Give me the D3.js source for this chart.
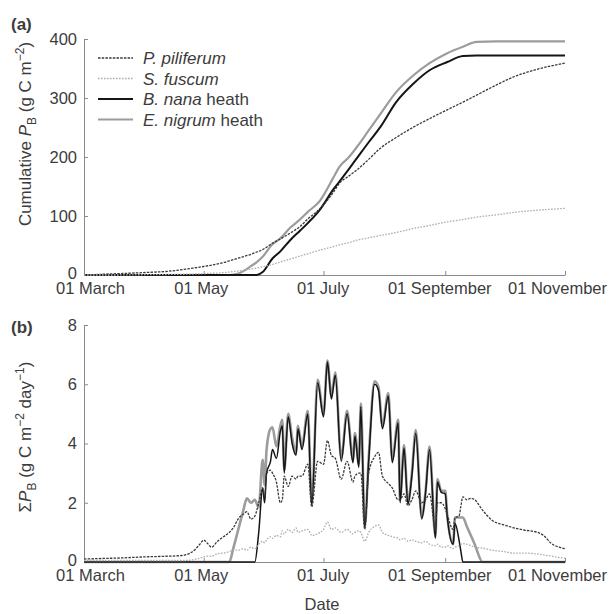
<!DOCTYPE html>
<html lang="en">
<head>
<meta charset="UTF-8">
<title>Cumulative and daily P_B</title>
<style>
  body { margin: 0; background: #fff; font-family: "Liberation Sans", Arial, sans-serif; }
  svg text { fill: #3c3c3c; font-size: 16.5px; }
  .axis path, .axis line { stroke: #8a8a8a; }
</style>
</head>
<body>
<svg id="chart" width="611" height="614"></svg>
<script src="https://d3js.org/d3.v7.min.js"></script>
<script>
// x positions are days since 01 March
const tickDays = [0, 61, 122, 184, 245];
const tickLabels = ['01 March', '01 May', '01 July', '01 September', '01 November'];
const tickShift = [6, -3, -1, -6, -8];
const yTicksA = [0, 100, 200, 300, 400];
const yTicksB = [0, 2, 4, 6, 8];

// (a) cumulative P_B, g C m-2
const daysA = [0, 15, 30, 45, 54, 62, 71, 74, 79, 85, 88, 91, 96, 100, 105, 110, 114, 120, 127, 130,
  135, 139, 145, 151, 159, 168, 176, 185, 193, 200, 210, 219, 228, 236, 245];
const cumPiliferum = [0, 2, 4, 7, 11, 15, 21, 24, 29, 35, 39, 43, 54, 61, 71, 82, 95, 112, 140, 155,
  168, 178, 196, 215, 233, 251, 265, 280, 293, 305, 322, 336, 346, 353, 359];
const cumFuscum = [0, 0, 0.5, 1, 1.5, 2.5, 4, 5, 7, 10, 12, 14, 18, 22, 27, 32, 36, 42, 48, 51,
  55, 59, 63, 67, 72, 79, 84, 90, 94, 98, 102, 106, 109, 111, 113];
const cumNana = [0, 0, 0, 0, 0, 0, 0, 0, 0, 0, 0, 5, 28, 40, 59, 75, 88, 110, 145, 158,
  180, 198, 225, 251, 293, 325, 347, 361, 371, 372, 372, 372, 372, 372, 372];
const cumNigrum = [0, 0, 0, 0, 0, 0, 0, 0, 3, 15, 22, 31, 52, 62, 80, 94, 107, 125, 165, 183,
  200, 217, 245, 273, 310, 339, 359, 376, 387, 395, 396, 396, 396, 396, 396];

// (b) daily sum of P_B, g C m-2 day-1
const daysB = [0, 10, 20, 30, 40, 50,
  54, 57, 59, 61, 63, 65, 68, 71, 74, 76,
  79, 81, 83, 85, 87, 89, 91, 92, 93, 95,
  96, 98, 100, 101, 102, 104, 106, 108, 109, 111,
  114, 116, 119, 122, 124, 126, 128, 131, 134, 137,
  138, 140, 141, 143, 145, 148, 150, 152, 155, 157,
  160, 161, 163, 165, 167, 169, 172, 174, 176, 179,
  180, 182, 184, 185, 188, 189, 191, 192, 193, 195,
  197, 199, 203, 208, 214, 219, 224, 231, 234, 238,
  242, 245];
const dayPiliferum = [0.10, 0.12, 0.14, 0.17, 0.19, 0.22,
  0.30, 0.45, 0.60, 0.74, 0.62, 0.50, 0.70, 0.85, 1.00, 1.15,
  1.50, 1.60, 1.70, 1.45, 1.55, 2.00, 2.50, 2.20, 3.00, 3.10,
  3.00, 2.70, 2.00, 2.10, 2.90, 2.55, 2.90, 2.80, 2.90, 2.90,
  3.30, 1.86, 3.40, 3.30, 4.10, 3.60, 3.50, 2.80, 3.40, 2.70,
  2.90, 3.00, 3.00, 1.10, 3.00, 3.55, 3.70, 2.90, 2.65, 2.50,
  2.10, 2.10, 2.30, 1.90, 2.10, 2.40, 2.00, 2.10, 2.30, 1.10,
  2.00, 2.00, 1.80, 1.60, 1.10, 1.50, 1.55, 1.90, 2.20, 2.10,
  2.15, 2.10, 1.75, 1.40, 1.25, 1.15, 1.08, 1.00, 0.90, 0.63,
  0.50, 0.45];
const dayFuscum = [0.05, 0.05, 0.05, 0.05, 0.05, 0.05,
  0.06, 0.10, 0.13, 0.17, 0.20, 0.20, 0.28, 0.30, 0.35, 0.40,
  0.40, 0.45, 0.40, 0.50, 0.45, 0.60, 0.70, 0.65, 0.75, 0.85,
  0.80, 0.90, 0.85, 1.05, 0.95, 1.10, 1.00, 1.15, 1.00, 1.05,
  1.10, 0.90, 0.95, 1.10, 1.35, 1.10, 1.15, 1.00, 1.10, 0.95,
  1.00, 1.05, 1.00, 0.70, 1.00, 1.20, 1.25, 1.00, 0.90, 0.85,
  0.80, 0.75, 0.80, 0.70, 0.75, 0.70, 0.65, 0.70, 0.60, 0.55,
  0.60, 0.50, 0.50, 0.55, 0.45, 0.50, 0.55, 0.60, 0.62, 0.60,
  0.55, 0.50, 0.47, 0.40, 0.35, 0.30, 0.30, 0.27, 0.24, 0.20,
  0.15, 0.13];
const dayNana = [0, 0, 0, 0, 0, 0,
  0, 0, 0, 0, 0, 0, 0, 0, 0, 0,
  0, 0, 0, 0, 0, 1.00, 2.50, 2.00, 3.00, 3.40,
  3.80, 3.50, 4.40, 4.60, 3.00, 4.90, 4.00, 3.60, 4.50, 3.80,
  5.00, 1.90, 6.05, 4.90, 6.75, 5.50, 6.30, 3.40, 5.00, 3.35,
  4.25, 3.20, 5.25, 1.15, 3.40, 6.00, 5.80, 4.50, 5.60, 3.35,
  4.70, 2.00, 3.85, 1.95, 2.90, 4.35, 1.45, 2.35, 3.80, 0.80,
  2.70, 2.35, 2.30, 1.55, 0.60, 1.30, 0.75, 0.35, 0, 0,
  0, 0, 0, 0, 0, 0, 0, 0, 0, 0,
  0, 0];
const dayNigrum = [0, 0, 0, 0, 0, 0,
  0, 0, 0, 0, 0, 0, 0, 0, 0, 0.45,
  1.20, 1.70, 2.15, 2.00, 2.10, 1.85, 3.45, 2.60, 3.80, 4.50,
  4.55, 3.90, 4.60, 4.80, 3.10, 5.00, 4.20, 3.70, 4.60, 3.90,
  5.10, 2.00, 6.15, 5.00, 6.80, 5.60, 6.40, 3.50, 5.10, 3.45,
  4.35, 3.30, 5.35, 1.20, 3.50, 6.10, 5.90, 4.60, 5.70, 3.45,
  4.80, 2.10, 3.95, 2.00, 3.00, 4.45, 1.50, 2.40, 3.90, 0.85,
  2.80, 2.40, 2.40, 1.60, 0.60, 1.50, 1.50, 1.50, 1.50, 1.20,
  0.90, 0.60, 0, 0, 0, 0, 0, 0, 0, 0,
  0, 0];

const species = [
  { name: 'P. piliferum', rest: '', color: '#3a3a3a', width: 1.3, dash: '2.5,1.2', cum: cumPiliferum, day: dayPiliferum },
  { name: 'S. fuscum', rest: '', color: '#adadad', width: 1.3, dash: '1.6,1.4', cum: cumFuscum, day: dayFuscum },
  { name: 'B. nana', rest: ' heath', color: '#151515', width: 2, dash: null, cum: cumNana, day: dayNana },
  { name: 'E. nigrum', rest: ' heath', color: '#9c9c9c', width: 2.2, dash: null, cum: cumNigrum, day: dayNigrum }
];
// drawing order: gray heath under black heath
const drawOrder = [3, 2, 0, 1];

const start = new Date(2007, 2, 1);
const toDate = d => d3.timeDay.offset(start, d);

const svg = d3.select('#chart');
const x = d3.scaleTime().domain([toDate(0), toDate(245)]).range([84, 565]);

const panels = [
  { top: 39, bottom: 275, max: 400, ticks: yTicksA, days: daysA, key: 'cum', tag: '(a)', tagY: 30 },
  { top: 325, bottom: 562, max: 8, ticks: yTicksB, days: daysB, key: 'day', tag: '(b)', tagY: 333 }
];

panels.forEach(p => {
  const y = d3.scaleLinear().domain([0, p.max]).range([p.bottom, p.top]);

  svg.append('g')
    .attr('class', 'axis')
    .attr('transform', 'translate(84,0)')
    .call(d3.axisLeft(y).tickValues(p.ticks).tickSizeInner(-4).tickSizeOuter(0).tickPadding(7))
    .call(g => g.selectAll('text').style('font-size', '16.5px').attr('fill', '#3c3c3c')
      .attr('dy', d => d === 0 ? '0.2em' : '0.32em'));

  svg.append('g')
    .attr('class', 'axis')
    .attr('transform', `translate(0,${p.bottom})`)
    .call(d3.axisBottom(x).tickValues(tickDays.map(toDate)).tickSizeInner(-4).tickSizeOuter(0).tickPadding(7)
      .tickFormat((d, i) => tickLabels[i]))
    .call(g => g.selectAll('text')
      .style('font-size', '16.5px')
      .attr('fill', '#3c3c3c')
      .attr('dx', (d, i) => tickShift[i]));

  const line = d3.line()
    .x((d, i) => x(toDate(p.days[i])))
    .y(d => y(d))
    .curve(d3.curveMonotoneX);

  drawOrder.forEach(k => {
    const s = species[k];
    svg.append('path')
      .datum(s[p.key])
      .attr('d', line)
      .attr('fill', 'none')
      .attr('stroke', s.color)
      .attr('stroke-width', p.key === 'day' && k === 2 ? 1.5 : (p.key === 'day' && k === 3 ? 2.6 : s.width))
      .attr('stroke-dasharray', s.dash)
      .attr('stroke-linejoin', 'round');
  });

  svg.append('text')
    .attr('x', 11)
    .attr('y', p.tagY)
    .attr('font-weight', 'bold')
    .attr('fill', '#111')
    .style('font-size', '17px')
    .text(p.tag);
});

// rich text helper for sub/superscripts
function richText(sel, parts) {
  parts.forEach(pt => {
    const t = sel.append('tspan').text(pt.t);
    if (pt.i) t.attr('font-style', 'italic');
    if (pt.sub) t.attr('dy', 5).style('font-size', '12px');
    if (pt.sup) t.attr('dy', -7).style('font-size', '12px');
    if (pt.back) t.attr('dy', pt.back);
  });
}

const labA = svg.append('text')
  .attr('transform', 'translate(31,134) rotate(-90)')
  .attr('text-anchor', 'middle')
  .style('font-size', '17px');
richText(labA, [
  { t: 'Cumulative ' }, { t: 'P', i: true }, { t: 'B', sub: true },
  { t: ' (g C m', back: -5 }, { t: '\u22122', sup: true }, { t: ')', back: 7 }
]);

const labB = svg.append('text')
  .attr('transform', 'translate(31,437) rotate(-90)')
  .attr('text-anchor', 'middle')
  .style('font-size', '17px');
richText(labB, [
  { t: '\u03A3' }, { t: 'P', i: true }, { t: 'B', sub: true },
  { t: ' (g C m', back: -5 }, { t: '\u22122', sup: true }, { t: ' day', back: 7 },
  { t: '\u22121', sup: true }, { t: ')', back: 7 }
]);

svg.append('text')
  .attr('x', 322)
  .attr('y', 610)
  .attr('text-anchor', 'middle')
  .text('Date');

// legend
const legend = svg.append('g');
species.forEach((s, i) => {
  const ly = 58 + i * 20.5;
  legend.append('line')
    .attr('x1', 98).attr('x2', 133)
    .attr('y1', ly).attr('y2', ly)
    .attr('stroke', s.color)
    .attr('stroke-width', s.width)
    .attr('stroke-dasharray', s.dash);
  const t = legend.append('text').attr('x', 143).attr('y', ly + 6).style('font-size', '17px');
  t.append('tspan').attr('font-style', 'italic').text(s.name);
  if (s.rest) t.append('tspan').text(s.rest);
});
</script>
</body>
</html>
